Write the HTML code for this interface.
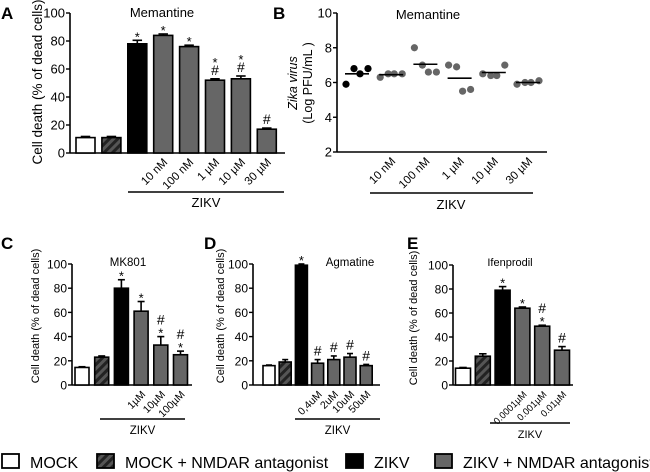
<!DOCTYPE html>
<html><head><meta charset="utf-8"><style>
body{margin:0;background:#fff;}
svg{display:block;font-family:"Liberation Sans",Arial,sans-serif;}
</style></head><body>
<svg id="fig" width="650" height="472" viewBox="0 0 650 472" xmlns="http://www.w3.org/2000/svg">
<defs>
<pattern id="hatch" patternUnits="userSpaceOnUse" width="6" height="6" patternTransform="rotate(45)">
<rect width="6" height="6" fill="#555"/><rect width="3" height="6" fill="#222"/>
</pattern>
</defs>
<g id="root"></g>
</svg>
<script>
// Panel A data
const aCats = ["", "", "", "10 nM", "100 nM", "1 µM", "10 µM", "30 µM"];
const aVals = [11, 11, 78, 84, 76, 52, 53, 17];
const aErr = [0.8, 0.8, 2.5, 1, 1, 1, 2, 0.8];
const aMarks = ["", "", "*", "*", "*", "*#", "*#", "#"];
// Panel B data
const bCats = ["", "10 nM", "100 nM", "1 µM", "10 µM", "30 µM"];
const bPts = [[5.9, 6.8, 6.5, 6.8], [6.3, 6.5, 6.5, 6.5], [8.0, 7.0, 6.6, 6.6], [7.0, 6.9, 5.5, 5.6], [6.5, 6.4, 6.4, 7.0], [5.9, 6.0, 6.0, 6.1]];
const bTicks = [2, 4, 6, 8, 10];
// Panel C data
const cCats = ["", "", "", "1µM", "10µM", "100µM"];
const cVals = [14.5, 23, 80, 61, 33, 25];
const cErr = [0.6, 1, 7, 8, 7, 3];
const cMarks = ["", "", "*", "*", "#*", "#*"];
// Panel D data
const dCats = ["", "", "", "0,4uM", "2uM", "10uM", "50uM"];
const dVals = [16, 19, 99, 18, 21, 23, 16];
const dErr = [0.5, 2, 1, 3, 3, 3, 1];
const dMarks = ["", "", "*", "#", "#", "#", "#"];
// Panel E data
const eCats = ["", "", "", "0.0001µM", "0.001µM", "0.01µM"];
const eVals = [14, 24, 79, 64, 49, 29];
const eErr = [0.6, 2, 3, 1, 0.8, 3];
const eMarks = ["", "", "*", "*", "#*", "#"];
const pctTicks = [0, 20, 40, 60, 80, 100];
const types = ["mock", "mockant", "zikv", "ant"];

const NS = "http://www.w3.org/2000/svg";
const root = document.getElementById("root");
function el(tag, attrs, parent, text) {
  const e = document.createElementNS(NS, tag);
  for (const k in attrs) e.setAttribute(k, attrs[k]);
  if (text !== undefined) e.textContent = text;
  (parent || root).appendChild(e);
  return e;
}
function fillFor(i) {
  if (i === 0) return "#fff";
  if (i === 1) return "url(#hatch)";
  if (i === 2) return "#000";
  return "#666";
}

function barPanel(o) {
  const g = el("g", {});
  
  
  const ys = v => o.y0 - (v / 100) * (o.y0 - o.y100);
  const xs = i => o.first + i * o.step;
  const ax = el("g", {}, g);
  
  
  el("line", {x1: o.ax, y1: o.y100, x2: o.ax, y2: o.y0, stroke: "#000", "stroke-width": 1.6}, ax);
  el("line", {x1: o.ax, y1: o.y0, x2: o.axEnd, y2: o.y0, stroke: "#000", "stroke-width": 1.6}, ax);
  pctTicks.forEach(t => {
    el("line", {x1: o.ax - 4, y1: ys(t), x2: o.ax, y2: ys(t), stroke: "#000", "stroke-width": 1.4}, ax);
    const tl = el("text", {x: o.ax - 5, y: ys(t) + 4.5, "text-anchor": "end", "font-size": o.tfs}, ax, t);
    
    
  });
  const yl = el("text", {transform: `translate(${o.ylx},${o.yly}) rotate(-90)`, "text-anchor": "middle", "font-size": o.ylfs}, g, "Cell death (% of dead cells)");
  
  
  o.vals.forEach((v, i) => {
    const cx = xs(i);
    const b = el("rect", {x: cx - o.bw / 2, y: ys(v), width: o.bw, height: o.y0 - ys(v), fill: fillFor(i), stroke: "#000", "stroke-width": 1.6}, g);
    
    
    const top = ys(v + o.err[i]);
    el("line", {x1: cx, y1: ys(v), x2: cx, y2: top, stroke: "#000", "stroke-width": 1.6}, g);
    el("line", {x1: cx - o.bw / 4, y1: top, x2: cx + o.bw / 4, y2: top, stroke: "#000", "stroke-width": 1.6}, g);
    const m = o.marks[i];
    let yy = top - 4;
    for (let k = m.length - 1; k >= 0; k--) {
      const ch = m[k];
      const t = el("text", {x: cx, y: ch === "*" ? yy + 5 : yy, "text-anchor": "middle", "font-size": ch === "*" ? 13 : 14}, g, ch);
      
      
      yy -= ch === "*" ? 8 : 13;
    }
    if (o.cats[i]) {
      const t = el("text", {transform: `translate(${cx + 5},${o.y0 + 10}) rotate(-45)`, "text-anchor": "end", "font-size": o.cfs}, g, o.cats[i]);
      
      
    }
  });
  el("line", {x1: o.zx1, y1: o.zy, x2: o.zx2, y2: o.zy, stroke: "#000", "stroke-width": 1.4}, g);
  const z = el("text", {x: (o.zx1 + o.zx2) / 2, y: o.zy + 15, "text-anchor": "middle", "font-size": o.zfs}, g, "ZIKV");
  
  
  const ti = el("text", {x: o.tx, y: o.ty, "text-anchor": "middle", "font-size": o.tifs}, g, o.title);
  
  
  const L = el("text", {x: o.lx, y: o.ly, "font-size": 17, "font-weight": "bold"}, g, o.letter);
  
  
}

barPanel({name: "panel-a", vals: aVals, err: aErr, marks: aMarks, cats: aCats, ax: 70, axEnd: 285, y0: 153, y100: 13, first: 85.5, step: 25.9, bw: 19, tfs: 13, cfs: 11.5, ylx: 42, yly: 82, ylfs: 13.5, zx1: 128, zx2: 284, zy: 192, zfs: 13, title: "Memantine", tx: 162, ty: 17, tifs: 13, letter: "A", lx: 1, ly: 19});
barPanel({name: "panel-c", vals: cVals, err: cErr, marks: cMarks, cats: cCats, ax: 72, axEnd: 192, y0: 385, y100: 264, first: 82, step: 19.7, bw: 14, tfs: 12, cfs: 10.5, ylx: 39, yly: 316, ylfs: 11, zx1: 100, zx2: 185, zy: 419, zfs: 11.5, title: "MK801", tx: 128, ty: 266, tifs: 11.5, letter: "C", lx: 1, ly: 249});
barPanel({name: "panel-d", vals: dVals, err: dErr, marks: dMarks, cats: dCats, ax: 253, axEnd: 380, y0: 385, y100: 264, first: 269, step: 16.2, bw: 12, tfs: 12, cfs: 10.5, ylx: 224, yly: 316, ylfs: 11, zx1: 295, zx2: 380, zy: 419, zfs: 11.5, title: "Agmatine", tx: 350, ty: 266, tifs: 11.5, letter: "D", lx: 204, ly: 249});
barPanel({name: "panel-e", vals: eVals, err: eErr, marks: eMarks, cats: eCats, ax: 453, axEnd: 573, y0: 385, y100: 265, first: 463, step: 19.8, bw: 15, tfs: 12, cfs: 9.5, ylx: 417, yly: 318, ylfs: 11, zx1: 490, zx2: 570, zy: 423, zfs: 11, title: "Ifenprodil", tx: 510, ty: 266, tifs: 11, letter: "E", lx: 407, ly: 249});

// Panel B
(function () {
  const g = el("g", {});
  
  
  const ax = 337, axEnd = 547, y2 = 152, y10 = 13;
  const ys = v => y2 - (v - 2) / 8 * (y2 - y10);
  const xs = i => 357 + i * 34.2;
  el("line", {x1: ax, y1: y10, x2: ax, y2: y2, stroke: "#000", "stroke-width": 1.6}, g);
  el("line", {x1: ax, y1: y2, x2: axEnd, y2: y2, stroke: "#000", "stroke-width": 1.6}, g);
  bTicks.forEach(t => {
    el("line", {x1: ax - 4, y1: ys(t), x2: ax, y2: ys(t), stroke: "#000", "stroke-width": 1.4}, g);
    const tl = el("text", {x: ax - 5, y: ys(t) + 4.5, "text-anchor": "end", "font-size": 13}, g, t);
    
    
  });
  const t1 = el("text", {transform: `translate(297,83) rotate(-90)`, "text-anchor": "middle", "font-size": 12.5, "font-style": "italic"}, g, "Zika virus");
  
  
  const t2 = el("text", {transform: `translate(312,83) rotate(-90)`, "text-anchor": "middle", "font-size": 12.5}, g, "(Log PFU/mL )");
  
  
  const offs = [-10, -4, 4, 10];
  bPts.forEach((pts, i) => {
    const cx = xs(i);
    const col = i === 0 ? "#000" : "#666";
    pts.forEach((v, k) => {
      const c = el("circle", {cx: cx + offs[k] + (k % 2 ? 1 : -1), cy: ys(v), r: 3.6, fill: col}, g);
      
      
    });
    const mean = pts.reduce((a, b) => a + b, 0) / pts.length;
    const ml = el("line", {x1: cx - 12, y1: ys(mean), x2: cx + 12, y2: ys(mean), stroke: "#000", "stroke-width": 1.6}, g);
    
    
    if (bCats[i]) {
      const t = el("text", {transform: `translate(${cx + 5},${y2 + 10}) rotate(-45)`, "text-anchor": "end", "font-size": 11.5}, g, bCats[i]);
      
      
    }
  });
  el("line", {x1: 370, y1: 193, x2: 533, y2: 193, stroke: "#000", "stroke-width": 1.4}, g);
  const z = el("text", {x: 451, y: 209, "text-anchor": "middle", "font-size": 13}, g, "ZIKV");
  
  
  const ti = el("text", {x: 428, y: 19, "text-anchor": "middle", "font-size": 13}, g, "Memantine");
  
  
  const L = el("text", {x: 273, y: 19, "font-size": 17, "font-weight": "bold"}, g, "B");
  
  
})();

// Legend
const legLabels = ["MOCK", "MOCK + NMDAR antagonist", "ZIKV", "ZIKV + NMDAR antagonist"];
const legBoxX = [2, 97, 346, 435];
(function () {
  const g = el("g", {});
  
  
  legLabels.forEach((lab, i) => {
    const e = el("g", {}, g);
    
    
    el("rect", {x: legBoxX[i], y: 454, width: 17, height: 14, fill: fillFor(i), stroke: "#000", "stroke-width": 1.8}, e);
    el("text", {x: legBoxX[i] + 28, y: 468, "font-size": 16}, e, lab);
  });
})();
</script>
</body></html>
